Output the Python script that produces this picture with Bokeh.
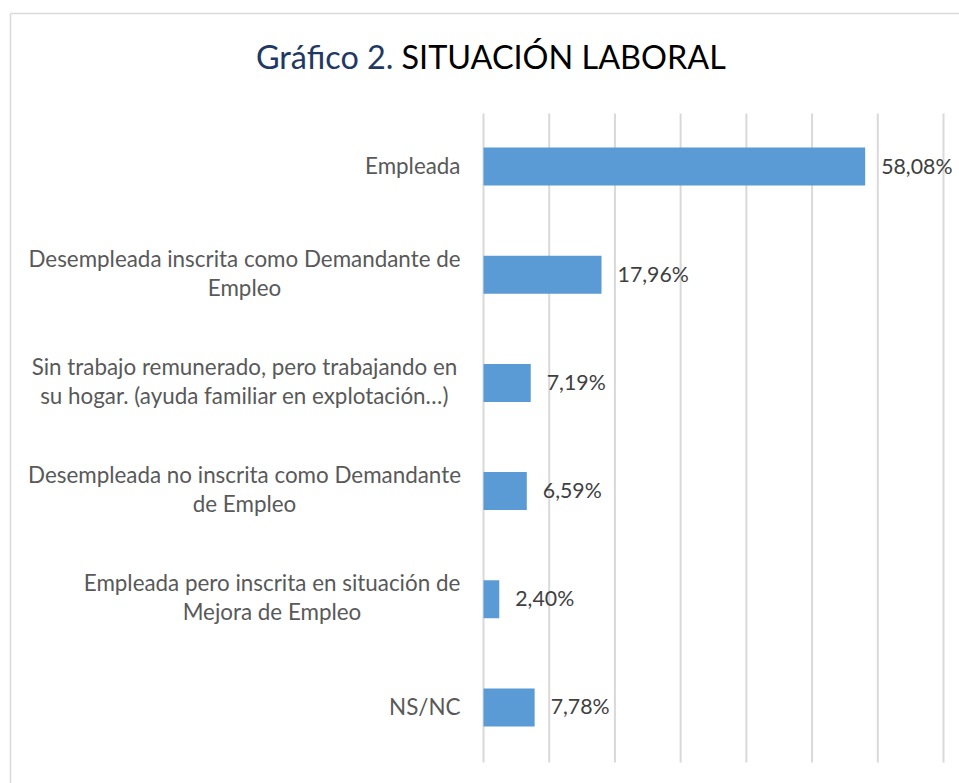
from bokeh.plotting import figure
from bokeh.models import Range1d, ColumnDataSource
from bokeh.core.properties import value
from bokeh.embed import file_html
from bokeh.resources import INLINE

# ---- data ----
categories = [
    "Empleada",
    "Desempleada inscrita como Demandante de\nEmpleo",
    "Sin trabajo remunerado, pero trabajando en\nsu hogar. (ayuda familiar en explotación…)",
    "Desempleada no inscrita como Demandante\nde Empleo",
    "Empleada pero inscrita en situación de\nMejora de Empleo",
    "NS/NC",
]
values = [58.08, 17.96, 7.19, 6.59, 2.40, 7.78]
value_labels = ["58,08%", "17,96%", "7,19%", "6,59%", "2,40%", "7,78%"]
grid_ticks = [0, 10, 20, 30, 40, 50, 60, 70]
title_part1 = "Gráfico 2."
title_part2 = "SITUACIÓN LABORAL"

# ---- layout (canvas pixels) ----
W, H = 959, 783
X0_PX = 483.0                 # pixel of value 0
PX_PER_UNIT = 460.0 / 70.0    # pixels per percentage point
PLOT_TOP_PX, PLOT_BOT_PX = 113.0, 762.0
N = len(categories)
BAND_PX = (PLOT_BOT_PX - PLOT_TOP_PX) / N

def px_x(px):
    return (px - X0_PX) / PX_PER_UNIT

def px_y(py):
    return (PLOT_BOT_PX - py) / BAND_PX

FONT = "Lato"
LABEL_SIZE = "22.4px"
VALUE_SIZE = "21.3px"
TITLE_SIZE = "32.4px"

p = figure(width=W, height=H, output_backend="svg", toolbar_location=None,
           x_range=Range1d(px_x(0), px_x(W)), y_range=Range1d(px_y(H), px_y(0)),
           x_axis_location=None, y_axis_location=None, min_border=0)
p.outline_line_color = None
p.xgrid.visible = False
p.ygrid.visible = False
p.background_fill_color = "white"
p.border_fill_color = "white"

# chart frame border (left + top)
fx, fy = px_x(10), px_y(13)
p.segment(x0=[fx, fx], y0=[fy, fy], x1=[fx, px_x(W + 20)], y1=[px_y(H + 20), fy],
          line_color="#d9d9d9", line_width=1.5)

# gridlines
p.segment(x0=grid_ticks, y0=[0] * len(grid_ticks), x1=grid_ticks, y1=[N] * len(grid_ticks),
          line_color="#d9d9d9", line_width=2)

ys = [N - 0.5 - i for i in range(N)]
bar_ys = [y + 1.0 / BAND_PX for y in ys]
src = ColumnDataSource(dict(y=ys, by=bar_ys, v=values, lab=value_labels, cat=categories,
                            lx=[v + 16 / PX_PER_UNIT for v in values]))
p.hbar(y="by", right="v", left=0, height=38 / BAND_PX, source=src,
       fill_color="#5b9bd5", line_color=None)

# value labels
p.text(x="lx", y="y", text="lab", source=src, text_font=value(FONT),
       text_font_size=VALUE_SIZE, text_color="#404040", y_offset=-2,
       text_align="left", text_baseline="middle")

# category labels
RIGHT_PX = 460.0
single = [i for i, c in enumerate(categories) if "\n" not in c]
multi = [i for i, c in enumerate(categories) if "\n" in c]
multi_centers_px = {1: 244.0, 2: 244.0, 3: 244.0, 4: 271.5}
p.text(x=[px_x(RIGHT_PX)] * len(single), y=[ys[i] for i in single],
       text=[categories[i] for i in single], text_font=value(FONT),
       text_font_size=LABEL_SIZE, text_color="#595959", y_offset=-2,
       text_align="right", text_baseline="middle")
p.text(x=[px_x(multi_centers_px[i]) for i in multi], y=[ys[i] for i in multi],
       text=[categories[i] for i in multi], text_font=value(FONT),
       text_font_size=LABEL_SIZE, text_color="#595959", text_line_height=1.07,
       y_offset=-3, text_align="center", text_baseline="middle")

# title
ty = px_y(56)
p.text(x=[px_x(393)], y=[ty], text=[title_part1], text_font=value(FONT),
       text_font_size=TITLE_SIZE, text_color="#1f3864",
       text_align="right", text_baseline="middle")
p.text(x=[px_x(401)], y=[ty], text=[title_part2], text_font=value(FONT),
       text_font_size=TITLE_SIZE, text_color="#000000",
       text_align="left", text_baseline="middle")

open("out.html", "w").write(file_html(p, INLINE))
